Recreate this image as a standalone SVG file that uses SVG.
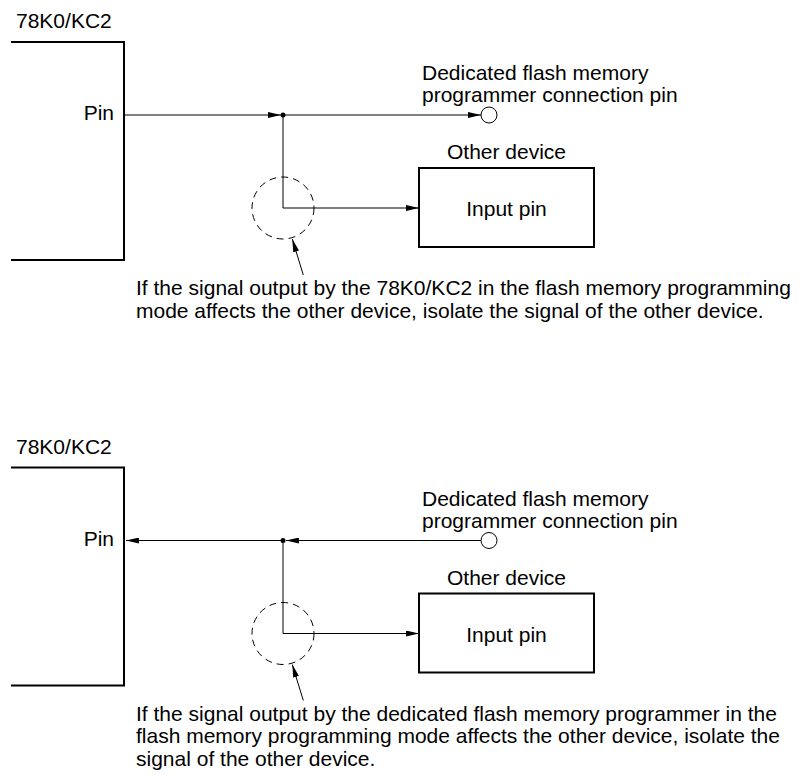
<svg xmlns="http://www.w3.org/2000/svg" width="798" height="775" viewBox="0 0 798 775">
  <style>
    text { font-family: "Liberation Sans", Arial, Helvetica, sans-serif; font-size: 21px; fill: #000; }
    .thick { fill: none; stroke: #000; stroke-width: 2; }
    .wire { fill: none; stroke: #000; stroke-width: 1; }
    .dash { fill: none; stroke: #000; stroke-width: 1; stroke-dasharray: 7 5; }
    .pin { fill: #fff; stroke: #000; stroke-width: 1; }
    .mid { text-anchor: middle; }
    .end { text-anchor: end; }
  </style>
  <defs>
    <marker id="ah" markerUnits="userSpaceOnUse" markerWidth="13" markerHeight="6" refX="13" refY="3" orient="auto">
      <path d="M0,0 L13,3 L0,6 z" fill="#000"/>
    </marker>
  </defs>

  <!-- Diagram 1 -->
  <g id="chip1">
    <path class="thick" d="M11,42 H124 V260 H11"/>
    <text x="16" y="28">78K0/KC2</text>
    <text class="end" x="114" y="120">Pin</text>
  </g>
  <g id="progpin1">
    <circle class="pin" cx="489" cy="115" r="8"/>
    <text x="422" y="80">Dedicated flash memory</text>
    <text x="422" y="102">programmer connection pin</text>
  </g>
  <g id="other1">
    <rect class="thick" x="419" y="168" width="175" height="79"/>
    <text class="mid" x="506.5" y="159">Other device</text>
    <text class="mid" x="506.5" y="216">Input pin</text>
  </g>
  <g id="isolate1">
    <circle class="dash" cx="283" cy="208" r="31"/>
  </g>
  <g id="note1">
    <text x="136" y="295">If the signal output by the 78K0/KC2 in the flash memory programming</text>
    <text x="136" y="317.5">mode affects the other device, isolate the signal of the other device.</text>
  </g>

  <!-- Diagram 2 -->
  <g id="chip2">
    <path class="thick" d="M11,467.5 H124 V685.5 H11"/>
    <text x="16" y="453.5">78K0/KC2</text>
    <text class="end" x="114" y="545.5">Pin</text>
  </g>
  <g id="progpin2">
    <circle class="pin" cx="489" cy="540.5" r="8"/>
    <text x="422" y="505.5">Dedicated flash memory</text>
    <text x="422" y="527.5">programmer connection pin</text>
  </g>
  <g id="other2">
    <rect class="thick" x="419" y="593.5" width="175" height="79"/>
    <text class="mid" x="506.5" y="584.5">Other device</text>
    <text class="mid" x="506.5" y="641.5">Input pin</text>
  </g>
  <g id="isolate2">
    <circle class="dash" cx="283" cy="633.5" r="31"/>
  </g>
  <g id="note2">
    <text x="136" y="720.5">If the signal output by the dedicated flash memory programmer in the</text>
    <text x="136" y="743">flash memory programming mode affects the other device, isolate the</text>
    <text x="136" y="765.5">signal of the other device.</text>
  </g>

  <g id="connectors">
    <!-- diagram 1 -->
    <line class="wire" x1="125" y1="115" x2="281" y2="115" marker-end="url(#ah)"/>
    <line class="wire" x1="283" y1="115" x2="481" y2="115" marker-end="url(#ah)"/>
    <path class="wire" d="M283,115 V208 H419" marker-end="url(#ah)"/>
    <circle cx="283" cy="115" r="2.5" fill="#000"/>
    <line class="wire" x1="303.3" y1="275" x2="292.3" y2="239" marker-end="url(#ah)"/>
    <!-- diagram 2 -->
    <line class="wire" x1="481" y1="540.5" x2="286" y2="540.5" marker-end="url(#ah)"/>
    <line class="wire" x1="283" y1="540.5" x2="126" y2="540.5" marker-end="url(#ah)"/>
    <path class="wire" d="M283,540.5 V633.5 H419" marker-end="url(#ah)"/>
    <circle cx="283" cy="540.5" r="2.5" fill="#000"/>
    <line class="wire" x1="303.3" y1="700.5" x2="292.3" y2="664.5" marker-end="url(#ah)"/>
  </g>
</svg>
